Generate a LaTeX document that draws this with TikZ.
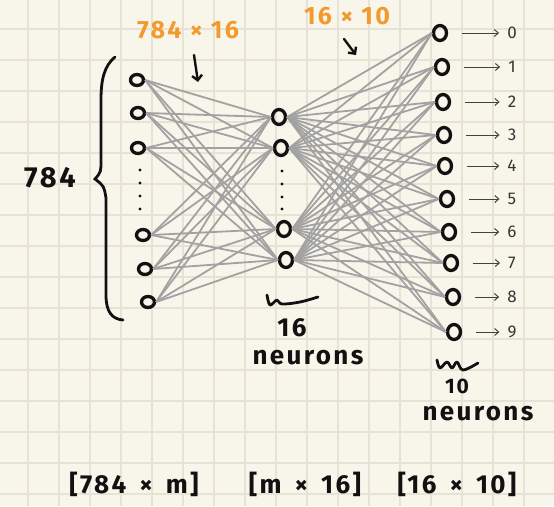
\documentclass[tikz,border=0pt]{standalone}
\usepackage{xcolor}
\usepackage{fontspec}
\setmainfont{Fira Sans}
\newfontfamily\handfont[LetterSpace=9]{Fira Sans}
\usepackage{tikz}
\usetikzlibrary{shapes.geometric,arrows.meta,positioning,calc}
\definecolor{paper}{HTML}{F8F6EB}
\definecolor{gridline}{HTML}{E6E2D5}
\definecolor{wire}{HTML}{A2A2A2}
\definecolor{weightOrange}{HTML}{F39A2C}
\definecolor{ink}{HTML}{111111}

\begin{document}
\begin{tikzpicture}[x=1pt,y=-1pt,
    neuron/.style={draw=ink,ellipse,line width=3.3pt,inner sep=0pt,minimum width=13pt,minimum height=11pt},
    bigneuron/.style={neuron,minimum width=13pt,minimum height=15pt},
    wire/.style={draw=wire,line width=1.8pt},
    hand/.style={font=\handfont\bfseries\fontsize{26}{28}\selectfont,text=ink,inner sep=0pt},
    weights/.style={font=\handfont\bfseries\fontsize{25}{27}\selectfont,text=weightOrange,inner sep=0pt},
    digit/.style={font=\fontsize{17}{19}\selectfont,text=ink!85,inner sep=0pt},
    outarrow/.style={draw=ink!80,line width=1pt,-{Straight Barb[length=4pt,width=7pt]}},
    handarrow/.style={draw=ink,line width=2.4pt,line cap=round,-{Straight Barb[length=5pt,width=10pt]}},
    squig/.style={draw=ink,line width=2.8pt,line cap=round,line join=round}]
  % paper and grid
  \useasboundingbox (0,0) rectangle (554,506);
  \fill[paper] (0,0) rectangle (554,506);
  \foreach \k in {0,...,17}
    \draw[gridline,line width=1.3pt] (28+31*\k,0) -- (28+31*\k,506);
  \foreach \k in {0,...,15}
    \draw[gridline,line width=1.3pt] (0,29+31*\k) -- (554,29+31*\k);

  % input layer
  \node[neuron] (in1) at (137,80) {};
  \node[neuron] (in2) at (138,113) {};
  \node[neuron] (in3) at (138,148) {};
  \node[neuron] (in4) at (143,235) {};
  \node[neuron] (in5) at (145,269) {};
  \node[neuron] (in6) at (148,302) {};
  \foreach \y in {170,183,196,209}
    \fill[ink] (140,\y) circle (1.7);

  % hidden layer
  \node[bigneuron] (hid1) at (279,117) {};
  \node[bigneuron] (hid2) at (281,148) {};
  \node[bigneuron] (hid3) at (284,229) {};
  \node[bigneuron] (hid4) at (286,260) {};
  \foreach \y in {171,184,197,209}
    \fill[ink] (282,\y) circle (1.7);

  % output layer
  \foreach \d/\x/\y in {0/440/33,1/442/67,2/443/102,3/444/135,4/445/166,
                        5/447/199,6/449/232,7/451/263,8/453/297,9/454/332} {
    \node[bigneuron] (out\d) at (\x,\y) {};
    \node[digit] (dig\d) at (512,\y) {\d};
    \draw[outarrow,shorten <=14pt,shorten >=8pt] (out\d.east) -- (out\d.east -| dig\d.west);
  }

  % weights
  \foreach \i in {1,...,6}
    \foreach \j in {1,...,4}
      \draw[wire] (in\i.east) -- (hid\j.west);
  \foreach \j in {1,...,4}
    \foreach \d in {0,...,9}
      \draw[wire] (hid\j.east) -- (out\d.west);

  % brace and labels
  \draw[ink,line width=2.8pt,line cap=round]
    (115,57) .. controls (104,66) and (101,80) .. (101,100) -- (101,160)
    .. controls (101,172) .. (95,179) .. controls (104,186) .. (106,198)
    -- (106,295) .. controls (106,312) and (112,319) .. (123,320);
  \node[hand,font=\handfont\bfseries\fontsize{29}{31}\selectfont] (inlabel) at (50,178) {784};

  \node[weights] (w1) at (188,30) {784 × 16};
  \node[weights] (w2) at (347,16) {16 × 10};
  \coordinate (w1tail) at (194,55);
  \coordinate (w1tip) at (198,82);
  \coordinate (w2tail) at (344,39);
  \coordinate (w2tip) at (356,55);
  \draw[handarrow] (w1tail) -- (w1tip);
  \draw[handarrow] (w2tail) -- (w2tip);

  \draw[squig] plot[smooth,tension=0.6] coordinates {(267,295) (270,305) (277,300) (282,304) (300,302) (318,297)};
  \node[hand] (hidnum) at (292,328) {16};
  \node[hand] (hidtext) at (308,358) {neurons};

  \draw[squig] plot[smooth,tension=0.6] coordinates {(437,360) (440,368) (447,362) (452,368) (457,362) (463,370) (478,363)};
  \node[hand,font=\handfont\bfseries\fontsize{21}{23}\selectfont] (outnum) at (457,386) {10};
  \node[hand] (outtext) at (478,414) {neurons};

  % shapes of the matrices
  \node[hand] (m1) at (134,484) {[784\enspace×\enspace m]};
  \node[hand] (m2) at (305,484) {[m\enspace×\enspace16]};
  \node[hand] (m3) at (457,484) {[16\enspace×\enspace10]};
\end{tikzpicture}
\end{document}
